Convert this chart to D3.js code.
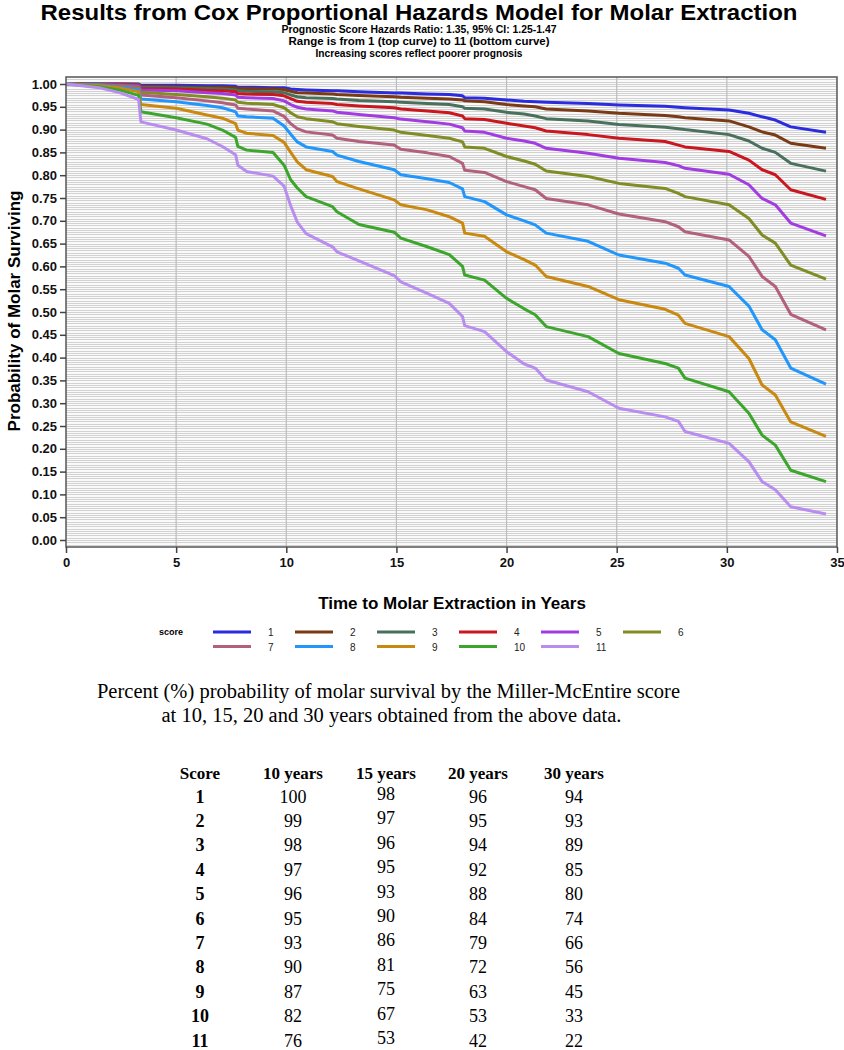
<!DOCTYPE html>
<html>
<head>
<meta charset="utf-8">
<script src="https://cdn.jsdelivr.net/npm/d3@7"></script>
<style>
  body { margin: 0; background: #fff; }
</style>
</head>
<body>
<svg width="844" height="1050" font-family="Liberation Sans, Arial, sans-serif"></svg>
<script>
// survival, one array per prognostic score
var years = [0, 1.5, 2.5, 3.3, 3.4, 5, 6.4, 7.1, 7.7, 7.8, 8.2, 9.4, 9.9, 10.2, 10.5, 10.9, 12.1, 12.3, 13.3, 14.9, 15.2,
             16.4, 17.4, 18.0, 18.1, 19.0, 20.0, 20.8, 21.3, 21.8, 23.7, 25.1, 27.2, 27.8, 28.1, 30.1, 31.0, 31.6, 32.2, 32.9, 34.5];

var score1 = [1.000, 1.000, 1.000, 1.000, 0.997, 0.997, 0.996, 0.996, 0.995, 0.993, 0.993, 0.992, 0.992, 0.989, 0.988, 0.987, 0.985, 0.985, 0.983, 0.980, 0.980,
              0.978, 0.977, 0.974, 0.970, 0.969, 0.965, 0.962, 0.961, 0.960, 0.957, 0.954, 0.951, 0.949, 0.948, 0.943, 0.936, 0.928, 0.921, 0.906, 0.894];
var score2 = [1.000, 1.000, 1.000, 0.999, 0.995, 0.994, 0.993, 0.993, 0.992, 0.990, 0.990, 0.989, 0.988, 0.984, 0.981, 0.980, 0.978, 0.977, 0.975, 0.972, 0.971,
              0.969, 0.967, 0.965, 0.963, 0.961, 0.955, 0.952, 0.950, 0.945, 0.941, 0.936, 0.931, 0.928, 0.926, 0.919, 0.906, 0.895, 0.888, 0.870, 0.859];
var score3 = [1.000, 1.000, 0.999, 0.998, 0.993, 0.992, 0.990, 0.989, 0.987, 0.985, 0.984, 0.983, 0.981, 0.976, 0.972, 0.970, 0.968, 0.967, 0.964, 0.961, 0.960,
              0.957, 0.955, 0.950, 0.947, 0.945, 0.938, 0.934, 0.930, 0.924, 0.919, 0.911, 0.905, 0.902, 0.900, 0.889, 0.875, 0.859, 0.850, 0.826, 0.809];
var score4 = [1.000, 0.999, 0.999, 0.997, 0.990, 0.989, 0.986, 0.985, 0.983, 0.979, 0.978, 0.977, 0.974, 0.968, 0.962, 0.960, 0.957, 0.955, 0.952, 0.948, 0.945,
              0.941, 0.937, 0.930, 0.924, 0.922, 0.914, 0.908, 0.904, 0.897, 0.889, 0.881, 0.874, 0.866, 0.862, 0.852, 0.833, 0.812, 0.801, 0.768, 0.747];
var score5 = [1.000, 0.999, 0.998, 0.996, 0.987, 0.985, 0.981, 0.979, 0.976, 0.971, 0.970, 0.968, 0.963, 0.955, 0.949, 0.945, 0.941, 0.938, 0.933, 0.926, 0.923,
              0.917, 0.912, 0.904, 0.897, 0.894, 0.881, 0.875, 0.870, 0.859, 0.848, 0.837, 0.828, 0.821, 0.815, 0.802, 0.779, 0.749, 0.735, 0.695, 0.667];
var score6 = [1.000, 0.998, 0.996, 0.993, 0.982, 0.977, 0.972, 0.969, 0.965, 0.960, 0.958, 0.955, 0.948, 0.937, 0.928, 0.924, 0.917, 0.913, 0.907, 0.899, 0.894,
              0.887, 0.881, 0.873, 0.862, 0.859, 0.841, 0.831, 0.824, 0.809, 0.797, 0.782, 0.771, 0.760, 0.753, 0.735, 0.705, 0.669, 0.651, 0.603, 0.572];
var score7 = [1.000, 0.998, 0.995, 0.990, 0.976, 0.970, 0.963, 0.959, 0.954, 0.947, 0.945, 0.941, 0.929, 0.913, 0.902, 0.895, 0.888, 0.881, 0.874, 0.866, 0.857,
              0.849, 0.841, 0.826, 0.811, 0.806, 0.786, 0.775, 0.768, 0.749, 0.735, 0.715, 0.698, 0.687, 0.676, 0.658, 0.622, 0.578, 0.556, 0.495, 0.461];
var score8 = [1.000, 0.997, 0.993, 0.987, 0.967, 0.961, 0.953, 0.948, 0.939, 0.930, 0.928, 0.925, 0.908, 0.890, 0.873, 0.862, 0.852, 0.844, 0.830, 0.812, 0.801,
              0.792, 0.784, 0.770, 0.753, 0.742, 0.713, 0.700, 0.691, 0.673, 0.655, 0.625, 0.607, 0.596, 0.581, 0.556, 0.513, 0.461, 0.439, 0.377, 0.342];
var score9 = [1.000, 0.996, 0.991, 0.983, 0.955, 0.947, 0.932, 0.925, 0.913, 0.899, 0.892, 0.887, 0.872, 0.850, 0.829, 0.812, 0.797, 0.786, 0.770, 0.746, 0.735,
              0.724, 0.709, 0.695, 0.673, 0.666, 0.632, 0.615, 0.603, 0.578, 0.556, 0.527, 0.506, 0.493, 0.475, 0.446, 0.398, 0.340, 0.318, 0.259, 0.227];
var score10 = [1.000, 0.994, 0.986, 0.975, 0.939, 0.926, 0.912, 0.899, 0.883, 0.863, 0.855, 0.850, 0.822, 0.790, 0.772, 0.753, 0.731, 0.720, 0.692, 0.675, 0.662,
               0.643, 0.626, 0.600, 0.581, 0.570, 0.530, 0.507, 0.494, 0.468, 0.446, 0.409, 0.387, 0.377, 0.355, 0.325, 0.278, 0.230, 0.208, 0.153, 0.128];
var score11 = [1.000, 0.992, 0.980, 0.966, 0.917, 0.899, 0.880, 0.863, 0.845, 0.822, 0.808, 0.798, 0.776, 0.733, 0.697, 0.672, 0.643, 0.632, 0.612, 0.580, 0.566,
               0.541, 0.519, 0.490, 0.470, 0.457, 0.413, 0.386, 0.377, 0.351, 0.325, 0.289, 0.270, 0.260, 0.238, 0.212, 0.172, 0.128, 0.110, 0.073, 0.057];

var scoreNames = ["1", "2", "3", "4", "5", "6", "7", "8", "9", "10", "11"];
var scoreSeries = [score1, score2, score3, score4, score5, score6, score7, score8, score9, score10, score11];
var scoreColors = ["#2b2be0", "#7b3a16", "#48705c", "#c9161f", "#a23ce2", "#808c24", "#b2607e", "#2196fb", "#c98910", "#3ca52b", "#b98df0"];

var xTicks = [0, 5, 10, 15, 20, 25, 30, 35];
var yTicks = [0, 0.05, 0.10, 0.15, 0.20, 0.25, 0.30, 0.35, 0.40, 0.45, 0.50, 0.55, 0.60, 0.65, 0.70, 0.75, 0.80, 0.85, 0.90, 0.95, 1.00];

// table under the chart
var tableHeader = ["Score", "10 years", "15 years", "20 years", "30 years"];
var tableScore = [1, 2, 3, 4, 5, 6, 7, 8, 9, 10, 11];
var at10 = [100, 99, 98, 97, 96, 95, 93, 90, 87, 82, 76];
var at15 = [98, 97, 96, 95, 93, 90, 86, 81, 75, 67, 53];
var at20 = [96, 95, 94, 92, 88, 84, 79, 72, 63, 53, 42];
var at30 = [94, 93, 89, 85, 80, 74, 66, 56, 45, 33, 22];

var svg = d3.select("svg");

// NB: "top" is taken by window.top, so the box edges get their own names
var plotL = 66, plotR = 837, plotT = 77, plotB = 547;
var x = d3.scaleLinear().domain([0, 35]).range([plotL, plotR]);
var y = d3.scaleLinear().domain([0, 1]).range([540, 84]);

// titles
var titles = [
  {t: "Results from Cox Proportional Hazards Model for Molar Extraction", y: 19.5, size: 21.5, w: 757},
  {t: "Prognostic Score Hazards Ratio: 1.35, 95% CI: 1.25-1.47", y: 33, size: 11, w: 275},
  {t: "Range is from 1 (top curve) to 11 (bottom curve)", y: 45, size: 11, w: 261},
  {t: "Increasing scores reflect poorer prognosis", y: 57, size: 11, w: 207}
];
svg.selectAll("text.title").data(titles).enter().append("text")
    .attr("class", "title")
    .attr("x", 419).attr("y", function(d) { return d.y; })
    .attr("text-anchor", "middle")
    .attr("font-weight", "bold")
    .attr("font-size", function(d) { return d.size; })
    .attr("textLength", function(d) { return d.w; })
    .attr("lengthAdjust", "spacingAndGlyphs")
    .text(function(d) { return d.t; });

// plot background + fine horizontal rules
var plot = svg.append("g");
plot.append("rect").attr("x", plotL).attr("y", plotT).attr("width", plotR - plotL).attr("height", plotB - plotT).attr("fill", "#fafafa");

var fine = d3.range(-15, 1016, 5).map(function(v) { return v / 1000; })
    .filter(function(v) { return y(v) > plotT + 1 && y(v) < plotB - 1; });
plot.selectAll("line.fine").data(fine).enter().append("line")
    .attr("x1", plotL).attr("x2", plotR)
    .attr("y1", function(d) { return Math.round(y(d)) + 0.5; })
    .attr("y2", function(d) { return Math.round(y(d)) + 0.5; })
    .attr("stroke", "#d2d2d2").attr("stroke-width", 1);

plot.selectAll("line.vgrid").data(xTicks.slice(1, -1)).enter().append("line")
    .attr("x1", function(d) { return x(d); }).attr("x2", function(d) { return x(d); })
    .attr("y1", plotT).attr("y2", plotB)
    .attr("stroke", "#bdbdbd").attr("stroke-width", 1.2);

// curves
var line = d3.line()
    .x(function(d) { return x(d[0]); })
    .y(function(d) { return y(d[1]); });

plot.selectAll("path.curve").data(scoreSeries).enter().append("path")
    .attr("class", "curve")
    .attr("d", function(s) { return line(years.map(function(t, i) { return [t, s[i]]; })); })
    .attr("fill", "none")
    .attr("stroke", function(d, i) { return scoreColors[i]; })
    .attr("stroke-width", 3)
    .attr("stroke-linejoin", "round");

// frame
plot.append("rect").attr("x", plotL).attr("y", plotT).attr("width", plotR - plotL).attr("height", plotB - plotT)
    .attr("fill", "none").attr("stroke", "#555").attr("stroke-width", 1.5);

// axes
var yAxis = svg.append("g").attr("transform", "translate(" + plotL + ",0)")
    .call(d3.axisLeft(y).tickValues(yTicks).tickFormat(d3.format(".2f")).tickSize(6).tickPadding(3));
var xAxis = svg.append("g").attr("transform", "translate(0," + plotB + ")")
    .call(d3.axisBottom(x).tickValues(xTicks).tickSize(6).tickPadding(5));
[yAxis, xAxis].forEach(function(a) {
  a.select(".domain").remove();
  a.selectAll(".tick line").attr("stroke", "#444").attr("stroke-width", 1.5);
  a.selectAll(".tick text").attr("font-family", "Liberation Sans, Arial, sans-serif")
      .attr("font-size", 13).attr("font-weight", "bold").attr("fill", "#111");
});

svg.append("text")
    .attr("transform", "translate(20,311) rotate(-90)")
    .attr("text-anchor", "middle")
    .attr("font-size", 17).attr("font-weight", "bold")
    .text("Probability of Molar Surviving");

svg.append("text")
    .attr("x", 452).attr("y", 609)
    .attr("text-anchor", "middle")
    .attr("font-size", 17).attr("font-weight", "bold")
    .text("Time to Molar Extraction in Years");

// legend
var legend = svg.append("g");
legend.append("text").attr("x", 159).attr("y", 635)
    .attr("font-size", 9).attr("font-weight", "bold").text("score");
var item = legend.selectAll("g.item").data(scoreNames).enter().append("g")
    .attr("class", "item")
    .attr("transform", function(d, i) { return "translate(" + (213 + (i % 6) * 82) + "," + (632 + Math.floor(i / 6) * 14.5) + ")"; });
item.append("line").attr("x1", 0).attr("x2", 38).attr("y1", 0).attr("y2", 0)
    .attr("stroke", function(d, i) { return scoreColors[i]; }).attr("stroke-width", 3);
item.append("text").attr("x", 55).attr("y", 4)
    .attr("font-size", 10).attr("fill", "#222").text(function(d) { return d; });

// caption + table (serif)
var serif = "Liberation Serif, Times New Roman, serif";
svg.append("text").attr("x", 388.5).attr("y", 698).attr("text-anchor", "middle")
    .attr("font-family", serif).attr("font-size", 20.5)
    .text("Percent (%) probability of molar survival by the Miller-McEntire score");
svg.append("text").attr("x", 391.5).attr("y", 722).attr("text-anchor", "middle")
    .attr("font-family", serif).attr("font-size", 20.5)
    .text("at 10, 15, 20 and 30 years obtained from the above data.");

var colX = [200, 293, 386, 478, 574];
var colShift = [0, 0, -2.5, 0, 0];
svg.selectAll("text.head").data(tableHeader).enter().append("text")
    .attr("class", "head")
    .attr("x", function(d, i) { return colX[i]; }).attr("y", 779)
    .attr("text-anchor", "middle")
    .attr("font-family", serif).attr("font-size", 17).attr("font-weight", "bold")
    .text(function(d) { return d; });

var rows = tableScore.map(function(s, i) { return [s, at10[i], at15[i], at20[i], at30[i]]; });
var row = svg.selectAll("g.row").data(rows).enter().append("g")
    .attr("class", "row")
    .attr("transform", function(d, i) { return "translate(0," + (802.5 + i * 24.4) + ")"; });
row.selectAll("text").data(function(d) { return d; }).enter().append("text")
    .attr("x", function(d, i) { return colX[i]; })
    .attr("y", function(d, i) { return colShift[i]; })
    .attr("text-anchor", "middle")
    .attr("font-family", serif).attr("font-size", 18)
    .attr("font-weight", function(d, i) { return i === 0 ? "bold" : "normal"; })
    .text(function(d) { return d; });
</script>
</body>
</html>
